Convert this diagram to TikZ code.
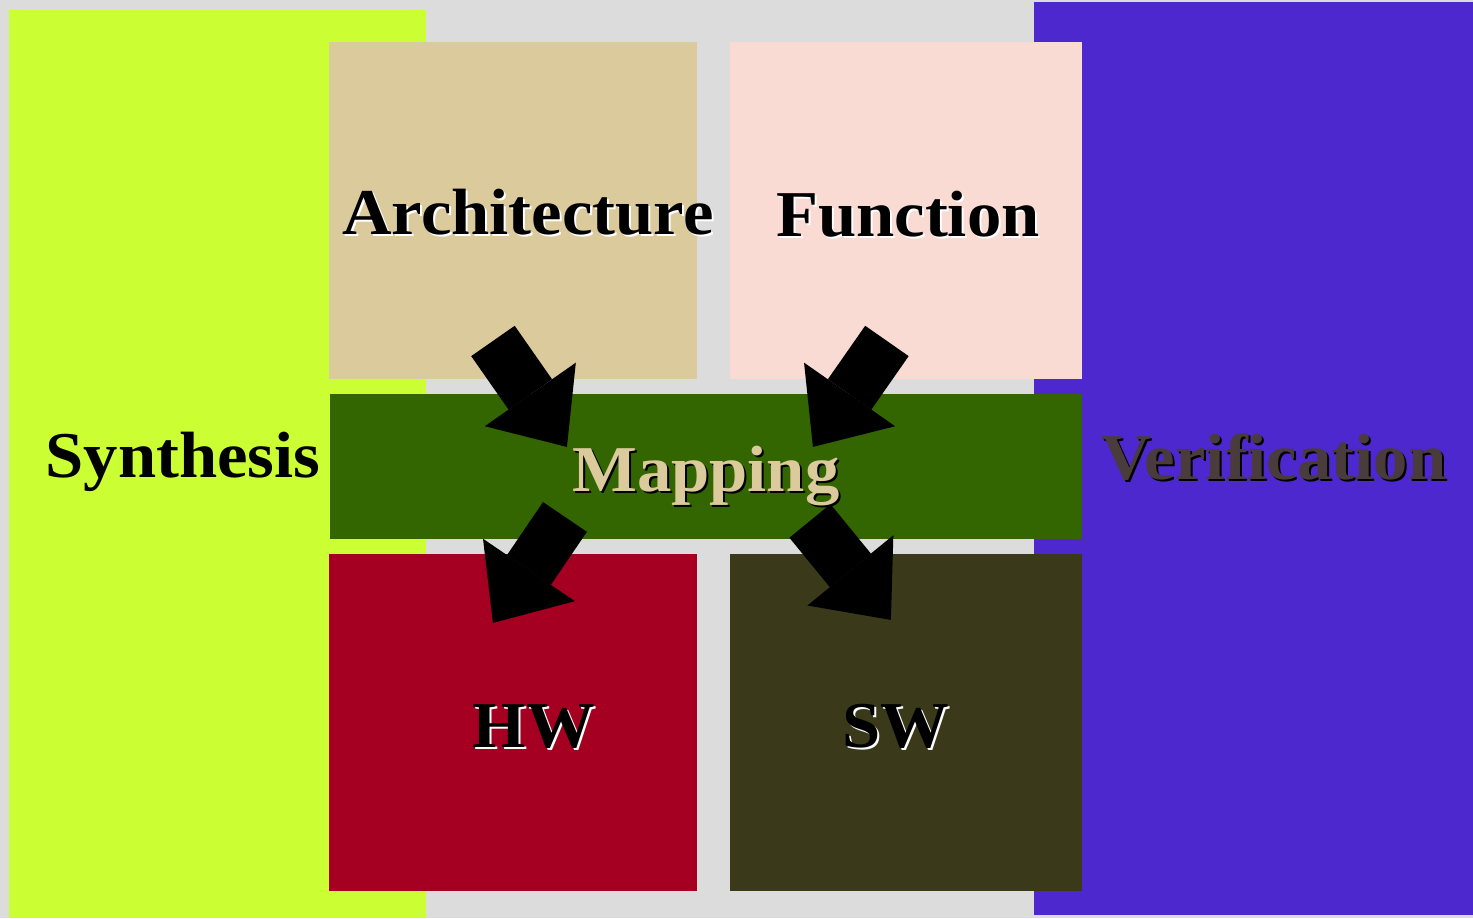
\documentclass[tikz,border=0pt]{standalone}
\usepackage{fontspec}
\setmainfont[FakeStretch=1.05]{Liberation Serif}
\usepackage{tikz}
\usetikzlibrary{arrows.meta}

\definecolor{bggray}{HTML}{DCDCDC}
\definecolor{synthc}{HTML}{CCFF33}
\definecolor{verifc}{HTML}{4D28CE}
\definecolor{archc}{HTML}{DBCA9B}
\definecolor{funcc}{HTML}{F9DBD3}
\definecolor{mapc}{HTML}{336600}
\definecolor{hwc}{HTML}{A50021}
\definecolor{swc}{HTML}{3A3A1A}
\definecolor{veriftext}{HTML}{4A3C3C}

\begin{document}
\begin{tikzpicture}[x=0.01cm,y=-0.01cm,
	box/.style={fill=#1,draw=none,inner sep=0pt,outer sep=0pt},
	lbl/.style={inner sep=0pt,anchor=base,text=#1,font=\fontsize{18.6}{21}\selectfont\bfseries},
	bigarrow/.style={line width=0.53cm,-{Triangle[width=1.11cm,length=0.64cm,line width=0pt]}}]
	\fill[bggray] (0,0) rectangle (1473,918);
	% side blocks
	\node[box=synthc,minimum width=4.17cm,minimum height=9.08cm] (synth) at (217.5,464) {};
	\node[box=verifc,minimum width=4.39cm,minimum height=9.13cm] (verif) at (1253.5,458.5) {};
	% inner blocks
	\node[box=archc,minimum width=3.68cm,minimum height=3.37cm] (arch) at (513,210.5) {};
	\node[box=funcc,minimum width=3.52cm,minimum height=3.37cm] (func) at (906,210.5) {};
	\node[box=mapc,minimum width=7.52cm,minimum height=1.45cm] (map) at (706,466.5) {};
	\node[box=hwc,minimum width=3.68cm,minimum height=3.37cm] (hw) at (513,722.5) {};
	\node[box=swc,minimum width=3.52cm,minimum height=3.37cm] (sw) at (906,722.5) {};
	% arrow ends
	\coordinate (archout) at (493,341);
	\coordinate (mapinA) at (567,447);
	\coordinate (funcout) at (887,341);
	\coordinate (mapinF) at (813,447);
	\coordinate (mapoutH) at (565,517);
	\coordinate (hwin) at (493,623);
	\coordinate (mapoutS) at (810,521);
	\coordinate (swin) at (891,620);
	\draw[bigarrow] (archout) -- (mapinA);
	\draw[bigarrow] (funcout) -- (mapinF);
	\draw[bigarrow] (mapoutH) -- (hwin);
	\draw[bigarrow] (mapoutS) -- (swin);
	% labels with shadows
	\node[lbl=white] at (530,237) {Architecture};
	\node[lbl=black] (archtext) at (528,235) {Architecture};
	\node[lbl=white] at (910,239) {Function};
	\node[lbl=black] (functext) at (908,237) {Function};
	\node[lbl=black] (synthtext) at (183,478) {Synthesis};
	\node[lbl=black] at (708,494) {Mapping};
	\node[lbl=archc] (maptext) at (706,492) {Mapping};
	\node[lbl=black] at (1276,482) {Verification};
	\node[lbl=veriftext] (veriftext) at (1274,480) {Verification};
	\node[lbl=white] at (536,750) {HW};
	\node[lbl=black] (hwtext) at (534,748) {HW};
	\node[lbl=white] at (898,750) {SW};
	\node[lbl=black] (swtext) at (896,748) {SW};
\end{tikzpicture}
\end{document}
